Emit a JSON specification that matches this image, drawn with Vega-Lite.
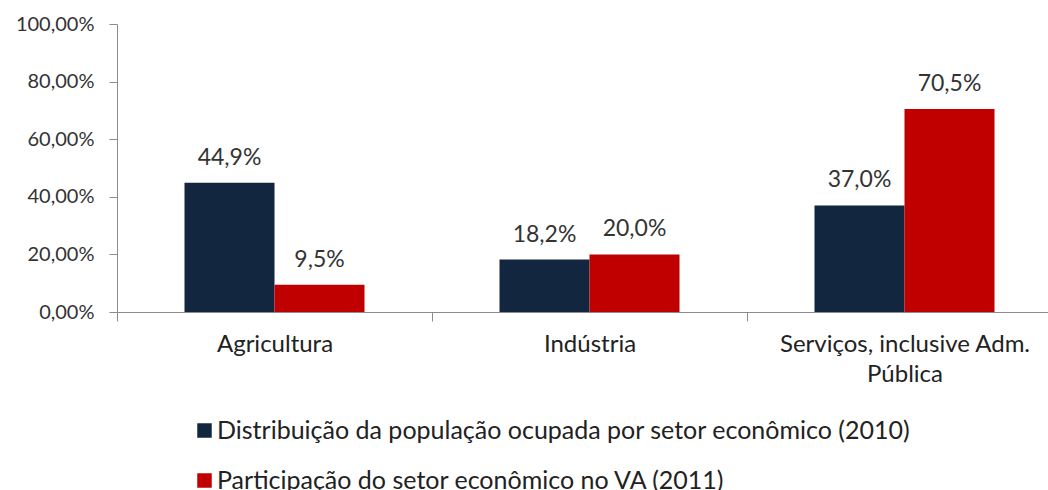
{
  "$schema": "https://vega.github.io/schema/vega-lite/v6.json",
  "autosize": {"type": "none"},
  "padding": {"left": 117, "top": 24, "right": 0, "bottom": 178},
  "width": 931,
  "height": 288,
  "background": "white",
  "config": {
    "locale": {"number": {"decimal": ",", "thousands": ".", "grouping": [3], "currency": ["R$", ""]}},
    "view": {"stroke": null},
    "font": "Lato"
  },
  "data": {"values": [
    {"setor": "Agricultura", "serie": "Distribuição da população ocupada por setor econômico (2010)", "valor": 0.449},
    {"setor": "Agricultura", "serie": "Participação do setor econômico no VA (2011)", "valor": 0.095},
    {"setor": "Indústria", "serie": "Distribuição da população ocupada por setor econômico (2010)", "valor": 0.182},
    {"setor": "Indústria", "serie": "Participação do setor econômico no VA (2011)", "valor": 0.200},
    {"setor": "Serviços, inclusive Adm. Pública", "serie": "Distribuição da população ocupada por setor econômico (2010)", "valor": 0.370},
    {"setor": "Serviços, inclusive Adm. Pública", "serie": "Participação do setor econômico no VA (2011)", "valor": 0.705}
  ]},
  "encoding": {
    "x": {
      "field": "setor", "type": "nominal",
      "sort": ["Agricultura", "Indústria", "Serviços, inclusive Adm. Pública"],
      "scale": {"paddingInner": 0, "paddingOuter": 0, "range": [0, 945]},
      "axis": {
        "title": null, "labelAngle": 0, "tickBand": "extent", "tickSize": 9,
        "domainColor": "#8c8c8c", "tickColor": "#8c8c8c",
        "labelFontSize": 24, "labelColor": "#222222", "labelPadding": 11,
        "labelLineHeight": 30, "labelBaseline": "top", "labelLimit": 500,
        "labelExpr": "datum.value == 'Serviços, inclusive Adm. Pública' ? ['Serviços, inclusive Adm.', 'Pública'] : datum.value"
      }
    },
    "xOffset": {
      "field": "serie", "type": "nominal",
      "scale": {"paddingInner": 0, "paddingOuter": 0.75}
    },
    "y": {
      "field": "valor", "type": "quantitative",
      "scale": {"domain": [0, 1], "nice": false},
      "axis": {
        "title": null, "grid": false, "values": [0, 0.2, 0.4, 0.6, 0.8, 1],
        "format": ".2%", "tickSize": 8, "labelPadding": 15,
        "domainColor": "#8c8c8c", "tickColor": "#8c8c8c",
        "labelFontSize": 20, "labelColor": "#333333"
      }
    }
  },
  "layer": [
    {
      "mark": {"type": "bar"},
      "encoding": {
        "color": {
          "field": "serie", "type": "nominal",
          "scale": {"range": ["#13263f", "#c00000"]},
          "legend": {
            "title": null, "orient": "none", "legendX": 75, "legendY": 394,
            "direction": "vertical", "symbolType": "square", "symbolSize": 210,
            "symbolStrokeWidth": 0, "labelFontSize": 25, "labelColor": "#222222",
            "rowPadding": 24, "labelOffset": 0, "labelLimit": 900
          }
        }
      }
    },
    {
      "mark": {"type": "text", "baseline": "alphabetic", "dy": -18, "fontSize": 23, "color": "#333333"},
      "encoding": {
        "text": {"field": "valor", "type": "quantitative", "format": ".1%"}
      }
    }
  ]
}
